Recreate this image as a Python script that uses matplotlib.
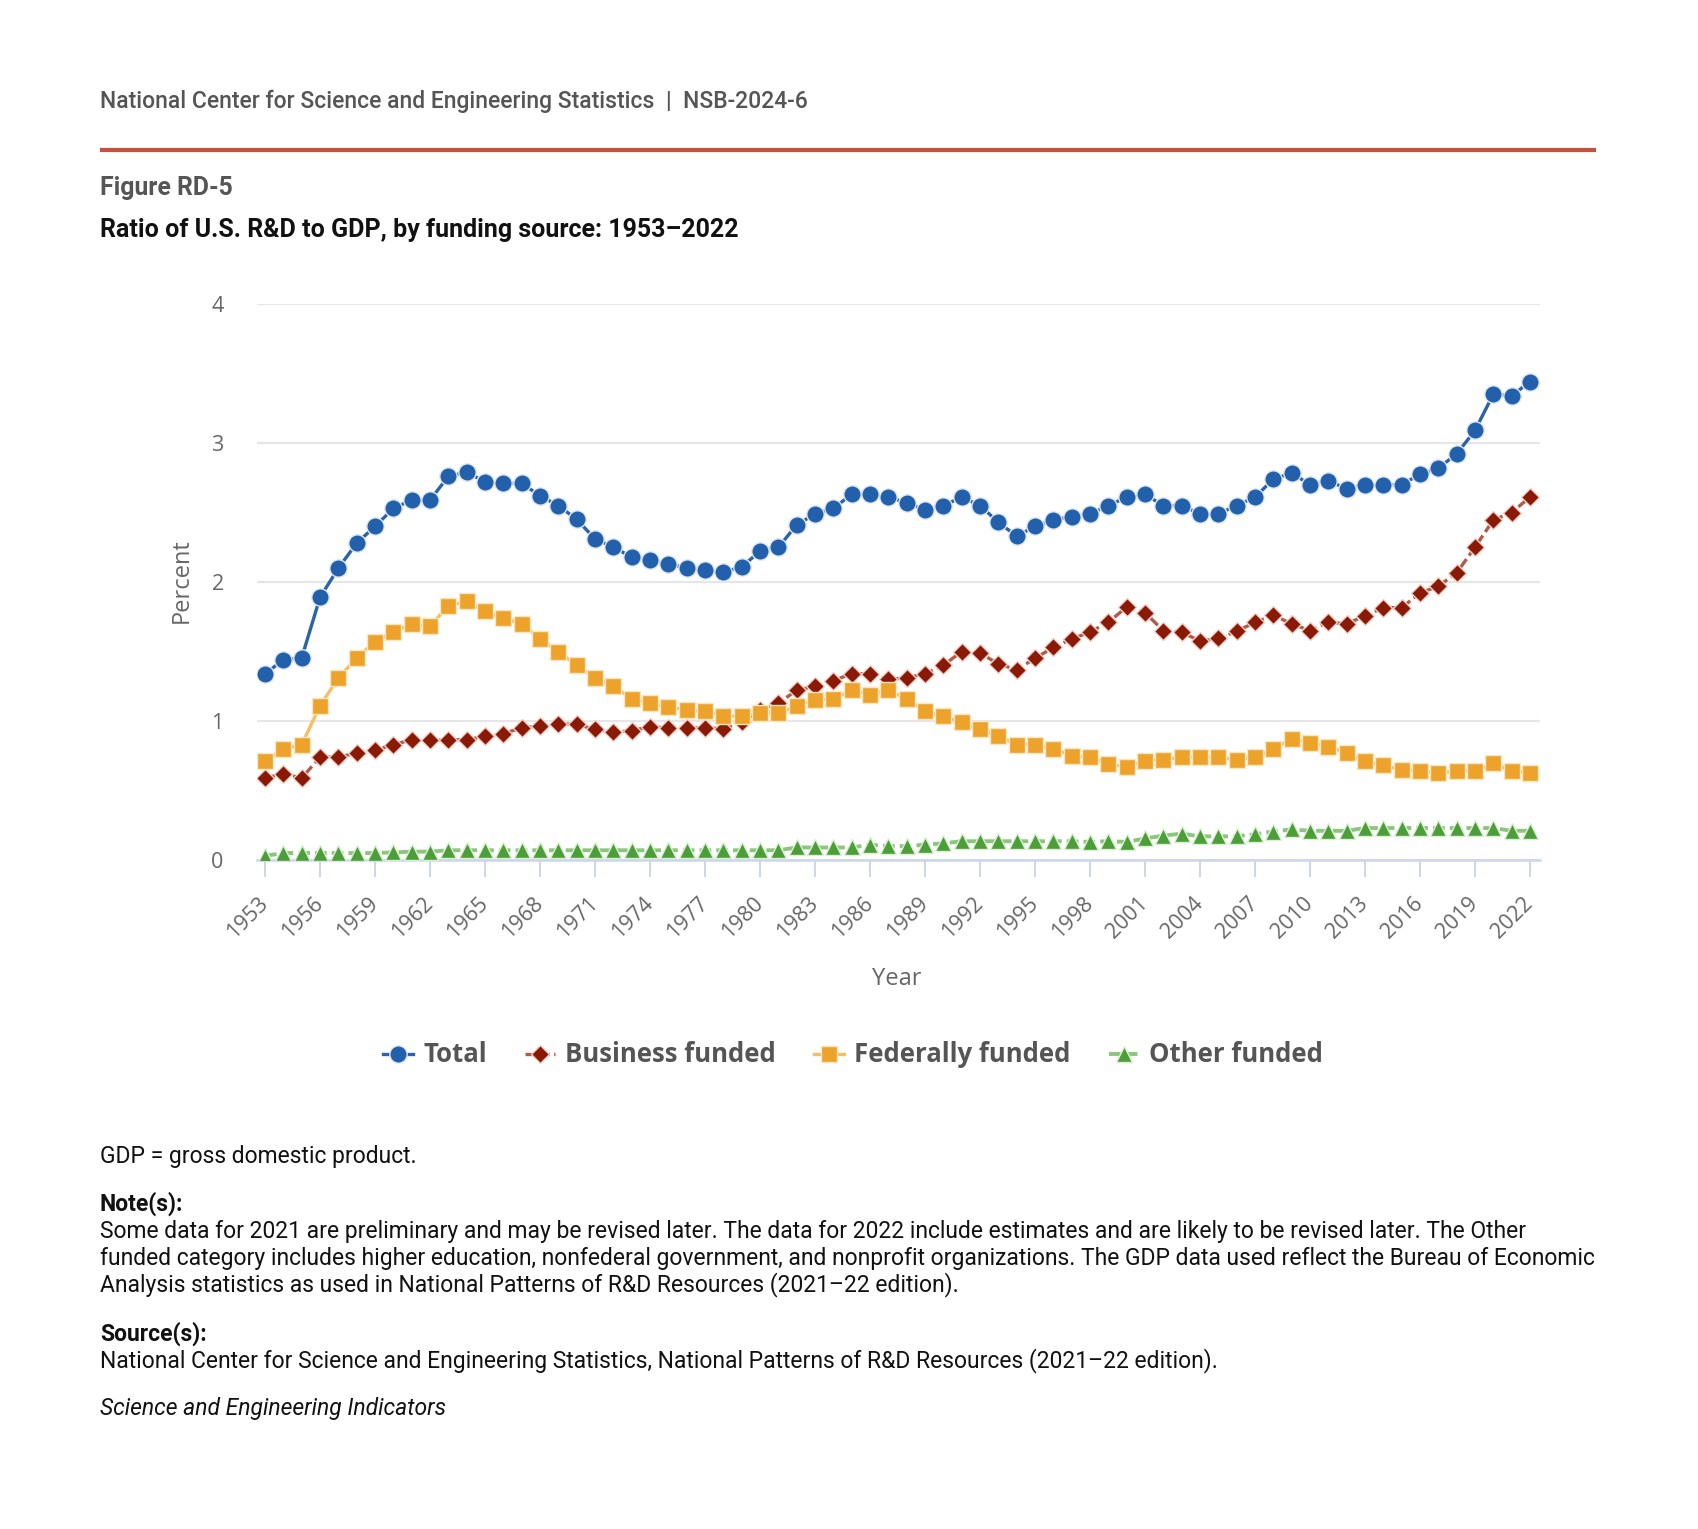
import matplotlib
matplotlib.use("Agg")
import matplotlib.pyplot as plt
from matplotlib.lines import Line2D
import numpy as np

years = list(range(1953, 2023))

total = [1.34, 1.44, 1.455, 1.89, 2.10, 2.28, 2.40, 2.53, 2.59, 2.59,
         2.76, 2.79, 2.72, 2.71, 2.71, 2.62, 2.55, 2.45, 2.31, 2.25,
         2.18, 2.16, 2.13, 2.10, 2.085, 2.07, 2.11, 2.22, 2.25, 2.41,
         2.49, 2.53, 2.63, 2.63, 2.61, 2.57, 2.52, 2.55, 2.61, 2.55,
         2.43, 2.33, 2.40, 2.445, 2.47, 2.49, 2.55, 2.61, 2.63, 2.55,
         2.55, 2.49, 2.49, 2.55, 2.61, 2.74, 2.785, 2.70, 2.73, 2.67,
         2.70, 2.70, 2.70, 2.775, 2.82, 2.92, 3.09, 3.35, 3.34, 3.44]

business = [0.59, 0.62, 0.59, 0.74, 0.74, 0.77, 0.79, 0.83, 0.865, 0.86,
            0.865, 0.865, 0.89, 0.91, 0.95, 0.965, 0.98, 0.975, 0.94, 0.92,
            0.93, 0.96, 0.95, 0.95, 0.95, 0.945, 0.99, 1.08, 1.13, 1.22,
            1.25, 1.29, 1.34, 1.34, 1.30, 1.31, 1.34, 1.40, 1.50, 1.49,
            1.41, 1.37, 1.45, 1.53, 1.59, 1.64, 1.71, 1.82, 1.78, 1.65,
            1.64, 1.575, 1.595, 1.645, 1.71, 1.76, 1.70, 1.65, 1.71, 1.70,
            1.755, 1.815, 1.815, 1.92, 1.97, 2.065, 2.25, 2.445, 2.50, 2.61]

federal = [0.71, 0.80, 0.83, 1.11, 1.31, 1.455, 1.57, 1.64, 1.70, 1.68,
           1.83, 1.86, 1.79, 1.74, 1.70, 1.59, 1.50, 1.40, 1.31, 1.25,
           1.16, 1.13, 1.10, 1.08, 1.07, 1.035, 1.035, 1.055, 1.055, 1.11,
           1.15, 1.16, 1.22, 1.19, 1.22, 1.16, 1.07, 1.035, 0.99, 0.94,
           0.89, 0.83, 0.83, 0.80, 0.75, 0.74, 0.69, 0.67, 0.715, 0.72,
           0.74, 0.74, 0.74, 0.72, 0.74, 0.80, 0.87, 0.845, 0.815, 0.77,
           0.71, 0.68, 0.65, 0.64, 0.625, 0.64, 0.64, 0.695, 0.64, 0.625]

other = [0.03, 0.05, 0.05, 0.05, 0.05, 0.05, 0.05, 0.055, 0.06, 0.06,
         0.07, 0.07, 0.07, 0.07, 0.07, 0.07, 0.07, 0.07, 0.07, 0.07,
         0.07, 0.07, 0.07, 0.07, 0.07, 0.07, 0.07, 0.07, 0.07, 0.09,
         0.09, 0.09, 0.09, 0.11, 0.10, 0.10, 0.11, 0.12, 0.135, 0.135,
         0.135, 0.135, 0.135, 0.135, 0.135, 0.13, 0.135, 0.13, 0.155, 0.175,
         0.19, 0.17, 0.17, 0.17, 0.185, 0.205, 0.22, 0.21, 0.21, 0.21,
         0.23, 0.23, 0.23, 0.23, 0.23, 0.23, 0.23, 0.23, 0.21, 0.21]

series_names = ["Total", "Business funded", "Federally funded", "Other funded"]
yticks = [0, 1, 2, 3, 4]
xticks = list(range(1953, 2023, 3))

W, H = 1699, 1529
fig = plt.figure(figsize=(W / 100, H / 100), dpi=100)

def fx(px):
    return px / W

def fy(py):
    return 1 - py / H

ax = fig.add_axes([fx(257), fy(860), fx(1540) - fx(257), fy(304) - fy(860)])

styles = [
    dict(data=total, color="#2a62ab", mcolor="#2360ac", marker="o", ms=12.5, ls="-", lw=2.4, mec="#dfe8f5"),
    dict(data=business, color="#b35a48", mcolor="#8a1a06", marker="D", ms=9.3, ls=(0, (3, 1.3)), lw=2.4, mec="#f0d0c8"),
    dict(data=federal, color="#f5bf63", mcolor="#eda32b", marker="s", ms=11.5, ls="-", lw=2.4, mec="#fbe6c2"),
    dict(data=other, color="#8cc67c", mcolor="#4b9e38", marker="^", ms=12, ls=(0, (3, 1.3)), lw=2.8, mec="#dcefd6"),
]

handles = []
for name, st in zip(series_names, styles):
    ax.plot(years, st["data"], color=st["color"], lw=st["lw"], ls=st["ls"], zorder=2)
    ax.plot(years, st["data"], ls="none", marker=st["marker"], ms=st["ms"],
            mfc=st["mcolor"], mec=st["mec"], mew=1.0, zorder=3)
    handles.append(Line2D([0], [0], color=st["color"], lw=st["lw"], ls=st["ls"],
                          marker=st["marker"], ms=st["ms"], mfc=st["mcolor"],
                          mec=st["mec"], mew=1.0, label=name))

ax.set_xlim(1952.56, 2022.55)
ax.set_ylim(0, 4)
ax.set_yticks(yticks)
ax.set_yticklabels([str(v) for v in yticks])
ax.set_xticks(xticks)
ax.set_xticklabels([str(v) for v in xticks], rotation=45, ha="right", va="center",
                   rotation_mode="anchor")
ax.grid(axis="y", color="#e6e6e6", lw=1.6, zorder=0)
ax.set_axisbelow(True)
for s in ["top", "right", "left"]:
    ax.spines[s].set_visible(False)
ax.spines["bottom"].set_color("#ccd6eb")
ax.spines["bottom"].set_linewidth(1.8)
ax.tick_params(axis="x", colors="#ccd6eb", length=12, width=1.4, pad=17,
               labelcolor="#666666", labelsize=15.5)
ax.tick_params(axis="y", length=0, pad=24, labelcolor="#666666", labelsize=15.5)
for lab in ax.get_xticklabels() + ax.get_yticklabels():
    lab.set_fontfamily("Open Sans")

fig.text(fx(182), fy(581), "Percent", rotation=90, ha="center", va="center",
         fontsize=17, color="#666666", family="Open Sans")
fig.text(fx(897), fy(979), "Year", ha="center", va="center",
         fontsize=17, color="#666666", family="Open Sans")

leg = fig.legend(handles=handles, loc="center", bbox_to_anchor=(fx(853), fy(1055)),
                 ncol=4, frameon=False, handlelength=1.15, handletextpad=0.4,
                 columnspacing=1.5,
                 prop=dict(family="Open Sans", weight="bold", size=18.5))
for t in leg.get_texts():
    t.set_color("#555555")

# header
fig.text(fx(100), fy(101.5), "National Center for Science and Engineering Statistics  |  NSB-2024-6",
         ha="left", va="center", fontsize=16.5, color="#555555", family="Roboto", weight="medium")
fig.add_artist(Line2D([fx(100), fx(1596)], [fy(150), fy(150)], color="#c8513d", lw=3,
                      solid_capstyle="butt"))
fig.text(fx(100), fy(188), "Figure RD-5", ha="left", va="center", fontsize=17.8,
         color="#555555", family="Roboto", weight="bold")
fig.text(fx(100), fy(230.5), "Ratio of U.S. R&D to GDP, by funding source: 1953\u20132022",
         ha="left", va="center", fontsize=18, color="#111111", family="Roboto", weight="bold")

# footer
fs = 16.45
fig.text(fx(100), fy(1156), "GDP = gross domestic product.", ha="left", va="center",
         fontsize=fs, color="#111111", family="Roboto")
fig.text(fx(100), fy(1203.5), "Note(s):", ha="left", va="center", fontsize=fs,
         color="#111111", family="Roboto", weight="bold")
notes = [
    "Some data for 2021 are preliminary and may be revised later. The data for 2022 include estimates and are likely to be revised later. The Other",
    "funded category includes higher education, nonfederal government, and nonprofit organizations. The GDP data used reflect the Bureau of Economic",
    "Analysis statistics as used in National Patterns of R&D Resources (2021\u201322 edition).",
]
for i, line in enumerate(notes):
    fig.text(fx(100), fy(1231.5 + i * 26.7), line, ha="left", va="center", fontsize=fs,
             color="#111111", family="Roboto")
fig.text(fx(100), fy(1333.5), "Source(s):", ha="left", va="center", fontsize=fs,
         color="#111111", family="Roboto", weight="bold")
fig.text(fx(100), fy(1360.5),
         "National Center for Science and Engineering Statistics, National Patterns of R&D Resources (2021\u201322 edition).",
         ha="left", va="center", fontsize=fs, color="#111111", family="Roboto")
fig.text(fx(100), fy(1408.5), "Science and Engineering Indicators", ha="left", va="center",
         fontsize=fs, color="#111111", family="Roboto", style="italic")

fig.savefig("out.png", dpi=100, facecolor="white")
